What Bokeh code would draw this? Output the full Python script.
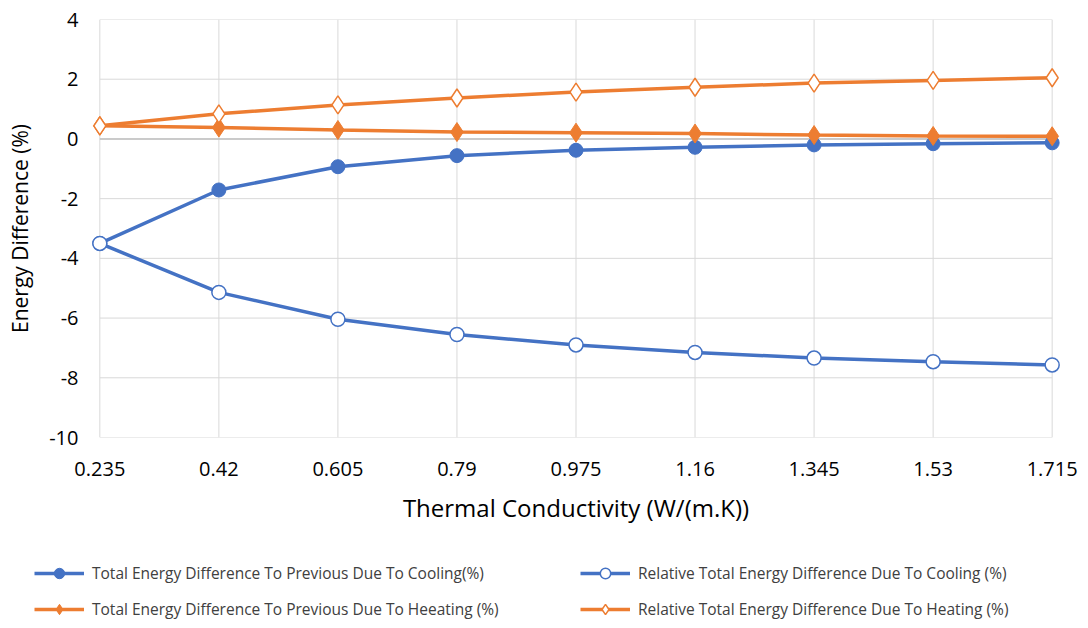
from bokeh.plotting import figure
from bokeh.models import Range1d, FixedTicker, Legend, LegendItem, ColumnDataSource
from bokeh.embed import file_html
from bokeh.resources import INLINE

categories = ["0.235", "0.42", "0.605", "0.79", "0.975", "1.16", "1.345", "1.53", "1.715"]
total_cooling = [-3.50, -1.71, -0.93, -0.56, -0.38, -0.28, -0.20, -0.16, -0.13]
relative_cooling = [-3.50, -5.14, -6.04, -6.55, -6.90, -7.15, -7.34, -7.46, -7.57]
total_heating = [0.44, 0.38, 0.30, 0.23, 0.21, 0.18, 0.13, 0.10, 0.09]
relative_heating = [0.44, 0.84, 1.14, 1.37, 1.57, 1.73, 1.87, 1.96, 2.05]
y_ticks = [-10, -8, -6, -4, -2, 0, 2, 4]
series_names = [
    "Total Energy Difference To Previous Due To Cooling(%)",
    "Relative Total Energy Difference Due To Cooling (%)",
    "Total Energy Difference To Previous Due To Heeating (%)",
    "Relative Total Energy Difference Due To Heating (%)",
]

BLUE = "#4472C4"
ORANGE = "#ED7D31"
FONT = "Open Sans"
LW = 3.5

styles = [
    dict(color=BLUE, marker="circle", size=14, fill=BLUE, mlw=1),
    dict(color=BLUE, marker="circle", size=14, fill="white", mlw=1.5),
    dict(color=ORANGE, marker="diamond", size=19, fill=ORANGE, mlw=1),
    dict(color=ORANGE, marker="diamond", size=18, fill="white", mlw=1.5),
]

xs = list(range(len(categories)))
n = len(categories) - 1
pad = 0.07

p = figure(width=1088, height=540, output_backend="svg", toolbar_location=None,
           x_range=Range1d(-pad, n + pad), y_range=Range1d(y_ticks[0], y_ticks[-1]),
           min_border_left=91, min_border_right=28, min_border_top=19, min_border_bottom=103)
p.outline_line_color = None
p.xgrid.visible = False
p.ygrid.visible = False

# custom grid
p.segment(x0=xs, x1=xs, y0=[y_ticks[0]] * len(xs), y1=[y_ticks[-1]] * len(xs),
          line_color="#D9D9D9", line_width=1)
p.segment(x0=[0] * len(y_ticks), x1=[n] * len(y_ticks), y0=y_ticks, y1=y_ticks,
          line_color="#D9D9D9", line_width=1)
p.segment(x0=[0], x1=[n], y0=[0], y1=[0], line_color="#BFBFBF", line_width=1.5)

src = ColumnDataSource(dict(x=xs, s0=total_cooling, s1=relative_cooling,
                            s2=total_heating, s3=relative_heating))

for i, st in enumerate(styles):
    p.line("x", f"s{i}", source=src, line_color=st["color"], line_width=LW)
    p.scatter("x", f"s{i}", source=src, marker=st["marker"], size=st["size"],
              fill_color=st["fill"], line_color=st["color"], line_width=st["mlw"])

# axes
p.xaxis.ticker = FixedTicker(ticks=xs)
p.xaxis.major_label_overrides = {i: c for i, c in zip(xs, categories)}
p.yaxis.ticker = FixedTicker(ticks=y_ticks)
p.yaxis.major_label_overrides = {t: str(t) for t in y_ticks}
for ax in (p.xaxis[0], p.yaxis[0]):
    ax.axis_line_color = None
    ax.major_tick_line_color = None
    ax.minor_tick_line_color = None
    ax.major_label_text_font = FONT
    ax.major_label_text_font_size = "20px"
    ax.major_label_text_color = "#000000"
    ax.axis_label_text_font = FONT
    ax.axis_label_text_font_style = "normal"
    ax.axis_label_text_color = "#000000"
p.xaxis.axis_label = "Thermal Conductivity (W/(m.K))"
p.xaxis.axis_label_text_font_size = "24px"
p.xaxis.major_label_standoff = 18
p.xaxis.axis_label_standoff = 12
p.yaxis.axis_label = "Energy Difference (%)"
p.yaxis.axis_label_text_font_size = "21px"
p.yaxis.major_label_standoff = 7
p.yaxis.axis_label_standoff = 12

# legend in its own strip (separate root, so no frame alignment)
pl = figure(width=1088, height=88, output_backend="svg", toolbar_location=None,
            x_range=Range1d(0, 1), y_range=Range1d(0, 1), min_border=0)
pl.outline_line_color = None
pl.axis.visible = False
pl.xgrid.visible = False
pl.ygrid.visible = False
items = []
for name, st in zip(series_names, styles):
    # off-range points: only the legend swatch is visible
    r_line = pl.line(x=[-5, -4], y=[-5, -5], line_color=st["color"], line_width=LW)
    r_mark = pl.scatter(x=[-5], y=[-5], marker=st["marker"], size=st["size"],
                        fill_color=st["fill"], line_color=st["color"], line_width=st["mlw"])
    items.append(LegendItem(label=name, renderers=[r_line, r_mark]))

legend = Legend(items=items, orientation="horizontal", ncols=2)
legend.label_text_font = FONT
legend.label_text_font_size = "15.5px"
legend.label_text_color = "#404040"
legend.glyph_width = 50
legend.glyph_height = 26
legend.label_standoff = 8
legend.label_width = 478
legend.spacing = 10
legend.padding = 0
legend.margin = 0
legend.border_line_color = None
legend.background_fill_alpha = 0
legend.location = (34, 6)
pl.add_layout(legend, "center")

open("out.html", "w").write(file_html([p, pl], INLINE))
